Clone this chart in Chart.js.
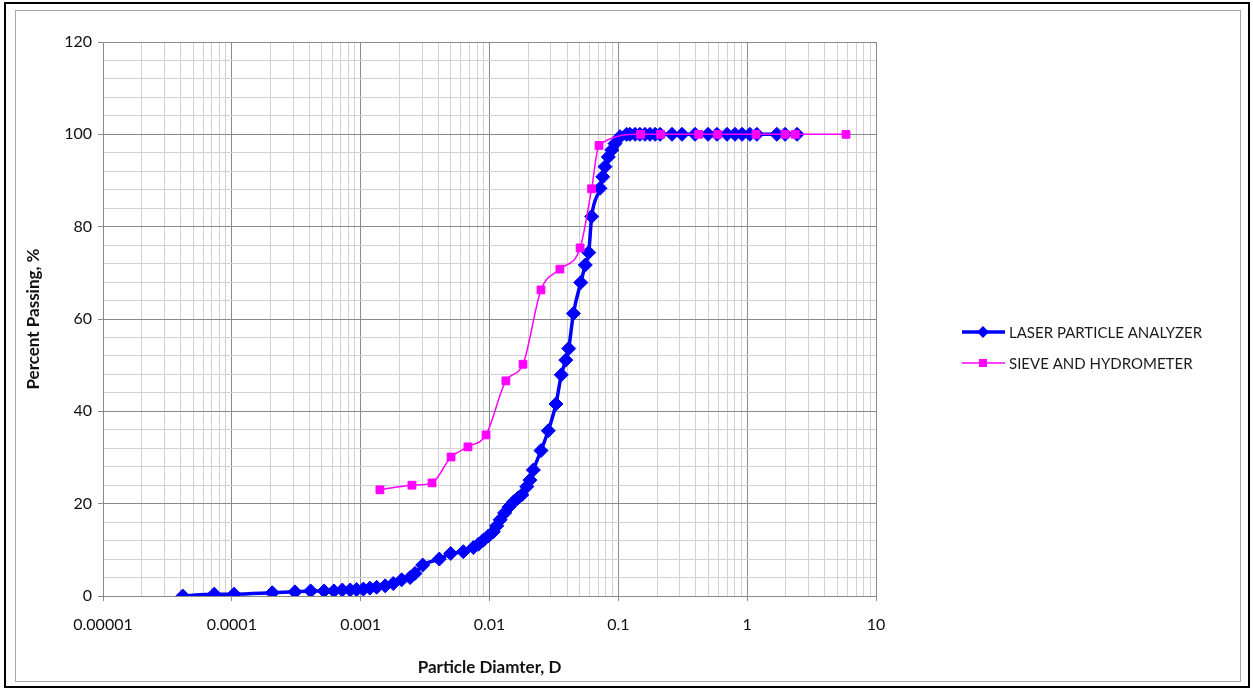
<!DOCTYPE html>
<html lang="en">
<head>
<meta charset="UTF-8">
<title>Particle Size Distribution</title>
<script src="https://cdn.jsdelivr.net/npm/chart.js"></script>
<style>
    html, body { margin: 0; padding: 0; background: #ffffff; }
    #wrap { width: 1253px; height: 690px; }
</style>
</head>
<body>
<div id="wrap"><canvas id="gradChart" width="1253" height="690"></canvas></div>
<script>
    // laser particle analyzer (diameter, % passing)
    const laserSize = [0.0000416, 0.000073, 0.000104, 0.000206, 0.000309, 0.000409, 0.00052, 0.00062, 0.00072, 0.00083,
        0.00093, 0.00105, 0.00118, 0.00133, 0.00155, 0.00179, 0.00208, 0.00242, 0.00264, 0.00303,
        0.00408, 0.0050, 0.00626, 0.0075, 0.0082, 0.00896, 0.0098, 0.0107, 0.0114, 0.0121,
        0.0131, 0.0142, 0.0154, 0.0166, 0.0178, 0.0195, 0.0206, 0.0219, 0.0251, 0.0286,
        0.0328, 0.0361, 0.0391, 0.0412, 0.0448, 0.0511, 0.0554, 0.0589, 0.0621, 0.0721,
        0.0757, 0.0788, 0.0836, 0.0889, 0.0942, 0.103, 0.116, 0.123, 0.135, 0.147,
        0.161, 0.176, 0.193, 0.211, 0.261, 0.312, 0.394, 0.497, 0.583, 0.698,
        0.805, 0.913, 1.05, 1.19, 1.70, 1.97, 2.44];
    const laserPassing = [0, 0.4, 0.4, 0.7, 0.9, 1.1, 1.1, 1.1, 1.3, 1.3,
        1.4, 1.5, 1.7, 1.9, 2.2, 2.7, 3.5, 4.0, 4.9, 6.7,
        8.0, 9.2, 9.6, 10.5, 11.2, 12.1, 13.0, 13.9, 15.2, 16.5,
        18.0, 19.3, 20.4, 21.2, 21.9, 23.7, 25.1, 27.3, 31.5, 35.8,
        41.6, 47.9, 51.1, 53.6, 61.2, 67.9, 71.7, 74.4, 82.2, 88.3,
        90.8, 93.0, 95.1, 96.6, 98.0, 99.5, 100, 100, 100, 100,
        100, 100, 100, 100, 100, 100, 100, 100, 100, 100,
        100, 100, 100, 100, 100, 100, 100];

    // sieve and hydrometer
    const sieveSize = [0.00141, 0.0025, 0.00358, 0.00503, 0.0068, 0.0094, 0.0134, 0.0182, 0.0251, 0.0352,
        0.0505, 0.062, 0.0708, 0.149, 0.213, 0.42, 0.59, 1.17, 1.97, 2.36, 5.85];
    const sievePassing = [23.0, 24.0, 24.5, 30.1, 32.3, 34.9, 46.6, 50.2, 66.3, 70.8,
        75.4, 88.2, 97.6, 100, 100, 100, 100, 100, 100, 100, 100];

    const seriesNames = ['LASER PARTICLE ANALYZER', 'SIEVE AND HYDROMETER'];
    const xTickValues = [0.00001, 0.0001, 0.001, 0.01, 0.1, 1, 10];
    const xTickLabels = ['0.00001', '0.0001', '0.001', '0.01', '0.1', '1', '10'];
    const yTickLabels = ['0', '20', '40', '60', '80', '100', '120'];

    const FONT = 'Lato, "Open Sans", sans-serif';
    const MAJOR = '#8a8a8a';
    const MINOR = '#d2d2d2';

    function isDecade(v) {
        return xTickValues.findIndex(t => Math.abs(t - v) / t < 1e-6);
    }

    const toPoints = (xs, ys) => xs.map((x, i) => ({ x: x, y: ys[i] }));

    // frame around the picture + legend drawn at the right
    const framePlugin = {
        id: 'frame',
        beforeDraw(chart) {
            const c = chart.ctx;
            c.save();
            c.fillStyle = '#ffffff';
            c.fillRect(0, 0, chart.width, chart.height);
            c.strokeStyle = '#000000';
            c.lineWidth = 2;
            c.strokeRect(5, 3, 1244, 684);
            c.strokeStyle = '#a6a6a6';
            c.lineWidth = 1;
            c.strokeRect(15.5, 10.5, 1225, 671);
            c.restore();
        },
        afterDraw(chart) {
            const c = chart.ctx;
            c.save();
            chart.data.datasets.forEach((ds, i) => {
                const y = 332 + i * 31;
                c.strokeStyle = ds.borderColor;
                c.lineWidth = ds.borderWidth;
                c.beginPath();
                c.moveTo(962, y);
                c.lineTo(1005, y);
                c.stroke();
                c.fillStyle = ds.borderColor;
                c.beginPath();
                if (ds.pointStyle === 'rectRot') {
                    c.moveTo(983, y - 6);
                    c.lineTo(989, y);
                    c.lineTo(983, y + 6);
                    c.lineTo(977, y);
                    c.closePath();
                    c.fill();
                } else {
                    c.fillRect(979, y - 4, 8, 8);
                }
                c.fillStyle = '#1a1a1a';
                c.font = '15px ' + FONT;
                c.textBaseline = 'middle';
                c.fillText(ds.label, 1009, y + 1);
            });
            c.restore();
        }
    };

    const ctx = document.getElementById('gradChart').getContext('2d');
    const gradChart = new Chart(ctx, {
        type: 'line',
        data: {
            datasets: [
                {
                    label: seriesNames[0],
                    data: toPoints(laserSize, laserPassing),
                    borderColor: '#0000ff',
                    backgroundColor: '#0000ff',
                    borderWidth: 3.5,
                    pointStyle: 'rectRot',
                    pointRadius: 7,
                    pointBorderWidth: 1,
                    cubicInterpolationMode: 'monotone',
                    order: 2
                },
                {
                    label: seriesNames[1],
                    data: toPoints(sieveSize, sievePassing),
                    borderColor: '#ff00ff',
                    backgroundColor: '#ff00ff',
                    borderWidth: 1.5,
                    pointStyle: 'rect',
                    pointRadius: 5.5,
                    pointBorderWidth: 1,
                    cubicInterpolationMode: 'monotone',
                    order: 1
                }
            ]
        },
        options: {
            responsive: false,
            animation: false,
            devicePixelRatio: 1,
            layout: { padding: { left: 20, right: 377, top: 42, bottom: 8 } },
            plugins: {
                legend: { display: false },
                tooltip: { enabled: false }
            },
            scales: {
                x: {
                    type: 'logarithmic',
                    min: 0.00001,
                    max: 10,
                    afterBuildTicks: (scale) => {
                        const ticks = [];
                        xTickValues.slice(0, -1).forEach(v => {
                            for (let m = 1; m < 10; m++) ticks.push({ value: v * m });
                        });
                        ticks.push({ value: xTickValues[xTickValues.length - 1] });
                        scale.ticks = ticks;
                    },
                    afterFit: (scale) => { scale.height = 86; },
                    ticks: {
                        autoSkip: false,
                        maxRotation: 0,
                        padding: 14,
                        color: '#111111',
                        font: { family: FONT, size: 16 },
                        callback: (value) => {
                            const i = isDecade(value);
                            return i >= 0 ? xTickLabels[i] : '';
                        }
                    },
                    grid: {
                        color: (c) => isDecade(c.tick.value) >= 0 ? MAJOR : MINOR,
                        tickColor: (c) => isDecade(c.tick.value) >= 0 ? MAJOR : 'rgba(0,0,0,0)',
                        tickLength: 5,
                        lineWidth: 1
                    },
                    border: { color: MAJOR },
                    title: {
                        display: true,
                        text: 'Particle Diamter, D',
                        color: '#111111',
                        font: { family: FONT, size: 17, weight: 'bold' }
                    }
                },
                y: {
                    min: 0,
                    max: 120,
                    afterFit: (scale) => { scale.width = 83; },
                    ticks: {
                        stepSize: 4,
                        autoSkip: false,
                        padding: 6,
                        color: '#111111',
                        font: { family: FONT, size: 16 },
                        callback: (value) => value % 20 === 0 ? yTickLabels[value / 20] : ''
                    },
                    grid: {
                        color: (c) => c.tick.value % 20 === 0 ? MAJOR : MINOR,
                        tickColor: (c) => c.tick.value % 20 === 0 ? MAJOR : 'rgba(0,0,0,0)',
                        tickLength: 5,
                        lineWidth: 1
                    },
                    border: { color: MAJOR },
                    title: {
                        display: true,
                        text: 'Percent Passing, %',
                        color: '#111111',
                        font: { family: FONT, size: 17, weight: 'bold' },
                        padding: { top: 3, bottom: 4 }
                    }
                }
            }
        },
        plugins: [framePlugin]
    });
</script>
</body>
</html>
